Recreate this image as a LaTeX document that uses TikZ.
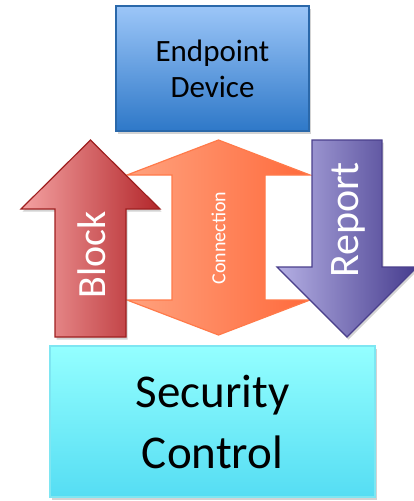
\documentclass[tikz,border=0pt]{standalone}
\usepackage{fontspec}
\setmainfont{Carlito}
\usetikzlibrary{shadows}

\definecolor{devtop}{HTML}{9CC6F8}
\definecolor{devbot}{HTML}{2E78C8}
\definecolor{devline}{HTML}{2A68AA}
\definecolor{sectop}{HTML}{94FFFF}
\definecolor{secbot}{HTML}{55DDF3}
\definecolor{secline}{HTML}{7EE6F2}
\definecolor{blkleft}{HTML}{F4A2A2}
\definecolor{blkright}{HTML}{B3272B}
\definecolor{blkline}{HTML}{9E2020}
\definecolor{conleft}{HTML}{FFA27E}
\definecolor{conright}{HTML}{FF6A3C}
\definecolor{conline}{HTML}{FF7A4A}
\definecolor{repleft}{HTML}{B5B0E4}
\definecolor{repright}{HTML}{463C8E}
\definecolor{repline}{HTML}{4A3F8C}

\begin{document}
\begin{tikzpicture}[
    x=1pt, y=-1pt,
    box/.style = {shape=rectangle, draw, line width=1.2pt,
      align=center, inner sep=0pt},
    bigarrow/.style = {draw, line width=1.2pt, line join=miter},
    shadowed/.style = {drop shadow={opacity=0.35,
        shadow xshift=1.5pt, shadow yshift=-2.5pt}},
    arrowtext/.style = {text=white, rotate=90, inner sep=0pt}
  ]
  \useasboundingbox (0,0) rectangle (414,501);

  \node[box, shadowed, draw=devline, top color=devtop, bottom color=devbot,
    minimum width=193pt, minimum height=125pt,
    font=\fontsize{31}{36}\selectfont] (device) at (212.5,68.5) {Endpoint\\Device};

  \draw[bigarrow, draw=conline, left color=conleft, right color=conright]
    (218.5,140) -- (310,175) -- (265,175) -- (265,300) -- (310,300)
    -- (218.5,335) -- (127,300) -- (172,300) -- (172,175) -- (127,175) -- cycle;
  \node[arrowtext, font=\fontsize{20}{22}\selectfont] (connection) at (218.5,238) {Connection};

  \draw[bigarrow, shadowed, draw=blkline, left color=blkleft, right color=blkright]
    (55,337) -- (55,209) -- (21,209) -- (90.5,140) -- (160,209)
    -- (126,209) -- (126,337) -- cycle;
  \node[arrowtext, font=\fontsize{40}{44}\selectfont] (block) at (92,255) {Block};

  \draw[bigarrow, shadowed, draw=repline, left color=repleft, right color=repright]
    (312,140) -- (382,140) -- (382,267) -- (417,267) -- (347,337)
    -- (277,267) -- (312,267) -- cycle;
  \node[arrowtext, font=\fontsize{42}{46}\selectfont] (report) at (348,220) {Report};

  \node[box, shadowed, draw=secline, top color=sectop, bottom color=secbot,
    minimum width=325pt, minimum height=151pt,
    font=\fontsize{47}{61}\selectfont] (security) at (212.5,421.5) {Security\\Control};
\end{tikzpicture}
\end{document}
